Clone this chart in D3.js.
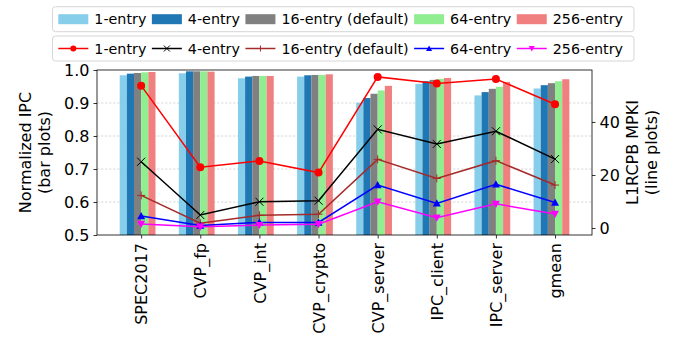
<!DOCTYPE html>
<html>
<head>
<meta charset="utf-8">
<script src="https://cdn.jsdelivr.net/npm/d3@7"></script>
<style>
body { margin: 0; background: #fff; }
text { font-family: "DejaVu Sans", sans-serif; fill: #000; }
</style>
</head>
<body>
<svg id="chart" width="683" height="337"></svg>
<script>
var categories = ["SPEC2017", "CVP_fp", "CVP_int", "CVP_crypto", "CVP_server", "IPC_client", "IPC_server", "gmean"];
var series = ["1-entry", "4-entry", "16-entry (default)", "64-entry", "256-entry"];
var barColors = ["#87ceeb", "#1f77b4", "#808080", "#90ee90", "#f08080"];
var lineColors = ["red", "black", "#a52a2a", "blue", "magenta"];
var markers = ["circle", "x", "plus", "up", "down"];

// normalized IPC, one array per config
var ipc1 = [0.984, 0.990, 0.975, 0.980, 0.901, 0.958, 0.923, 0.944];
var ipc4 = [0.989, 0.996, 0.980, 0.984, 0.915, 0.966, 0.933, 0.954];
var ipc16 = [0.991, 0.996, 0.982, 0.985, 0.928, 0.970, 0.943, 0.960];
var ipc64 = [0.993, 0.996, 0.982, 0.985, 0.938, 0.973, 0.949, 0.966];
var ipc256 = [0.994, 0.995, 0.982, 0.987, 0.952, 0.976, 0.964, 0.972];

// L1RCPB MPKI
var mpki1 = [53.7, 22.9, 25.3, 20.9, 57.0, 54.5, 56.2, 46.7];
var mpki4 = [25.0, 4.9, 9.9, 10.3, 37.2, 31.7, 36.5, 26.0];
var mpki16 = [12.3, 1.8, 4.8, 5.2, 25.9, 18.7, 25.4, 16.2];
var mpki64 = [4.5, 0.9, 2.1, 2.1, 16.2, 9.3, 16.5, 9.6];
var mpki256 = [1.5, 0.5, 1.1, 1.4, 9.9, 3.9, 9.1, 5.3];

var leftTicks = [0.5, 0.6, 0.7, 0.8, 0.9, 1.0];
var rightTicks = [0, 20, 40];

var ipc = [ipc1, ipc4, ipc16, ipc64, ipc256];
var mpki = [mpki1, mpki4, mpki16, mpki64, mpki256];

var svg = d3.select("#chart");
var plotL = 97, plotR = 592, plotT = 70, plotB = 235;
var barW = 0.121;

var x = d3.scaleLinear().domain([-0.747, 7.625]).range([plotL, plotR]);
var y = d3.scaleLinear().domain([0.5, 1.0]).range([plotB, plotT]);
var y2 = d3.scaleLinear().domain([-2.64, 59.6]).range([plotB, plotT]);

// grid
svg.append("g").selectAll("line").data(leftTicks.slice(1, 5)).enter().append("line")
    .attr("x1", plotL).attr("x2", plotR)
    .attr("y1", function (d) { return y(d); }).attr("y2", function (d) { return y(d); })
    .style("stroke", "#d0d0d0").style("stroke-width", 0.8).style("stroke-dasharray", "2.5,1.5");

// bars
var px = function (u) { return x(u) - x(0); };
ipc.forEach(function (vals, j) {
    svg.append("g").selectAll("rect").data(vals).enter().append("rect")
        .attr("x", function (d, i) { return x(i + (j - 3) * barW); })
        .attr("width", px(barW))
        .attr("y", function (d) { return y(d); })
        .attr("height", function (d) { return plotB - y(d); })
        .style("fill", barColors[j]);
});

function drawMarker(g, type, color, size) {
    if (type === "circle") {
        g.append("circle").attr("r", size).style("fill", color);
    } else if (type === "x") {
        g.append("path").attr("d", "M" + -size + "," + -size + "L" + size + "," + size + "M" + -size + "," + size + "L" + size + "," + -size)
            .style("stroke", color).style("stroke-width", 1);
    } else if (type === "plus") {
        g.append("path").attr("d", "M" + -size + ",0L" + size + ",0M0," + -size + "L0," + size)
            .style("stroke", color).style("stroke-width", 1);
    } else if (type === "up") {
        g.append("path").attr("d", "M0," + -size + "L" + size + "," + size * 0.8 + "L" + -size + "," + size * 0.8 + "Z").style("fill", color);
    } else {
        g.append("path").attr("d", "M0," + size + "L" + size + "," + -size * 0.8 + "L" + -size + "," + -size * 0.8 + "Z").style("fill", color);
    }
}

// lines
var line = d3.line().x(function (d, i) { return x(i); }).y(function (d) { return y2(d); });
mpki.forEach(function (vals, j) {
    svg.append("path").datum(vals).attr("d", line)
        .style("fill", "none").style("stroke", lineColors[j]).style("stroke-width", 1.5);
    vals.forEach(function (d, i) {
        var g = svg.append("g").attr("transform", "translate(" + x(i) + "," + y2(d) + ")");
        drawMarker(g, markers[j], lineColors[j], 4);
    });
});

// axes
var axL = svg.append("g").attr("transform", "translate(" + plotL + ",0)")
    .call(d3.axisLeft(y).tickValues(leftTicks).tickFormat(d3.format(".1f")).tickSize(3.5).tickPadding(4));
var axR = svg.append("g").attr("transform", "translate(" + plotR + ",0)")
    .call(d3.axisRight(y2).tickValues(rightTicks).tickSize(3.5).tickPadding(4));
var axB = svg.append("g").attr("transform", "translate(0," + plotB + ")")
    .call(d3.axisBottom(x).tickValues(d3.range(categories.length)).tickFormat(function (d) { return categories[d]; }).tickSize(3.5));
[axL, axR, axB].forEach(function (a) {
    a.select(".domain").remove();
    a.selectAll("line").style("stroke", "#000").style("stroke-width", 0.8);
    a.selectAll("text").style("font-size", "16px").style("font-family", "DejaVu Sans");
});
axB.selectAll("text")
    .attr("transform", "rotate(-90)")
    .attr("x", -8).attr("y", 0).attr("dy", "0.35em")
    .style("text-anchor", "end");

svg.append("rect").attr("x", plotL).attr("y", plotT).attr("width", plotR - plotL).attr("height", plotB - plotT)
    .style("fill", "none").style("stroke", "#000").style("stroke-width", 0.8);

// axis titles
var ly = (plotT + plotB) / 2;
var tl = svg.append("text").attr("transform", "translate(25," + ly + ") rotate(-90)")
    .style("text-anchor", "middle").style("font-size", "16px");
tl.append("tspan").attr("x", 0).attr("dy", "0.35em").text("Normalized IPC");
tl.append("tspan").attr("x", 0).attr("dy", "1.2em").text("(bar plots)");
var tr = svg.append("text").attr("transform", "translate(632," + ly + ") rotate(-90)")
    .style("text-anchor", "middle").style("font-size", "16px");
tr.append("tspan").attr("x", 0).attr("dy", "0.35em").text("L1RCPB MPKI");
tr.append("tspan").attr("x", 0).attr("dy", "1.2em").text("(line plots)");

// legends
function legend(y0, isBar) {
    svg.append("rect").attr("x", 52.5).attr("y", y0).attr("width", 581.5).attr("height", 25).attr("rx", 3)
        .style("fill", "#fff").style("fill-opacity", 0.8).style("stroke", "#d6d6d6").style("stroke-width", 1);
    var cx = 58.3, cy = y0 + 12.5;
    series.forEach(function (s, j) {
        if (isBar) {
            svg.append("rect").attr("x", cx).attr("y", cy - 5).attr("width", 30).attr("height", 10).style("fill", barColors[j]);
        } else {
            svg.append("line").attr("x1", cx).attr("x2", cx + 30).attr("y1", cy).attr("y2", cy)
                .style("stroke", lineColors[j]).style("stroke-width", 1.5);
            drawMarker(svg.append("g").attr("transform", "translate(" + (cx + 15) + "," + cy + ")"), markers[j], lineColors[j], 3);
        }
        var t = svg.append("text").attr("x", cx + 36).attr("y", cy).attr("dy", "0.35em")
            .style("font-size", "14.3px").text(s);
        cx = cx + 36 + t.node().getComputedTextLength() + 5.5;
    });
}
legend(6.7, true);
legend(36, false);
</script>
</body>
</html>
